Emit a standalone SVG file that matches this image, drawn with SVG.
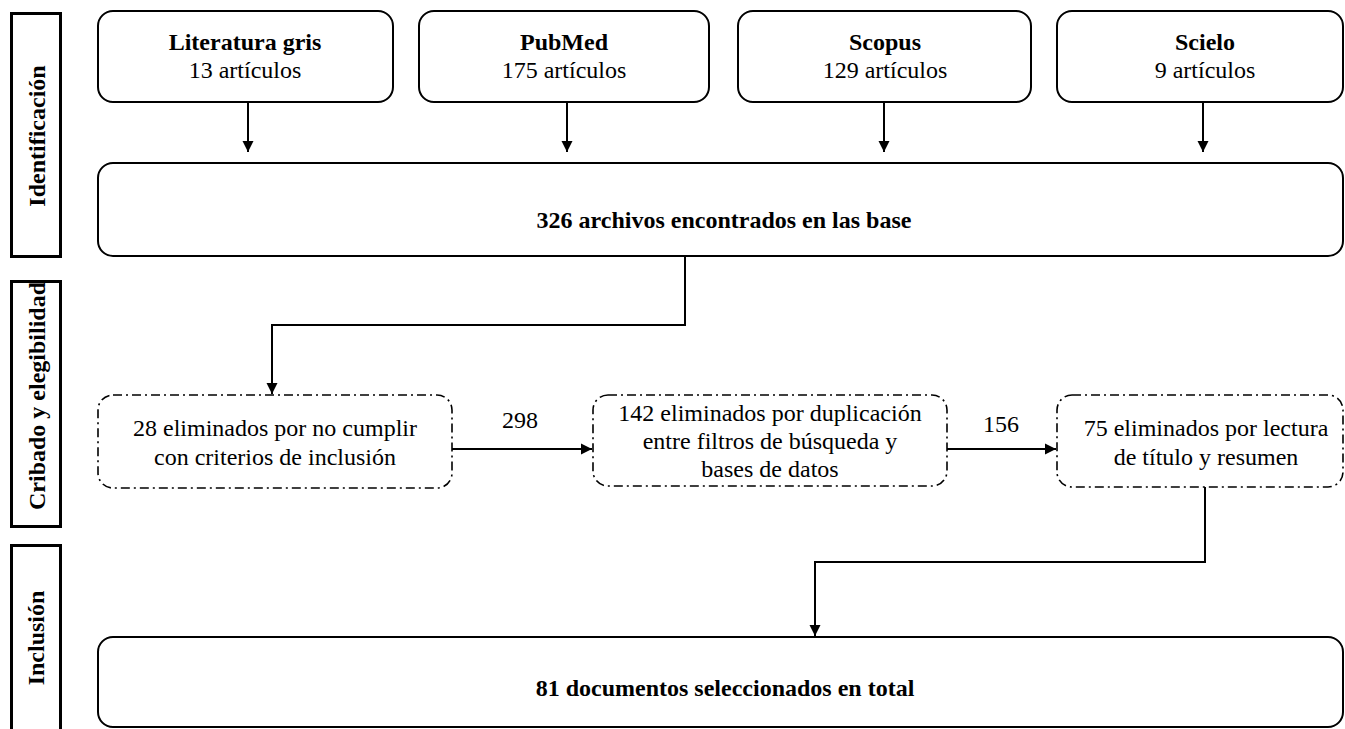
<svg xmlns="http://www.w3.org/2000/svg" width="1345" height="729" viewBox="0 0 1345 729">
<style>
.t{font-family:"Liberation Serif","Times New Roman",serif;font-size:24px;fill:#000;text-anchor:middle}
.b{font-weight:bold}
.box{fill:#fff;stroke:#000;stroke-width:2}
.dash{fill:#fff;stroke:#000;stroke-width:1.6;stroke-dasharray:9 4 2 4}
.side{fill:#fff;stroke:#000;stroke-width:3}
.c{fill:none;stroke:#000;stroke-width:2}
</style>
<defs>
<marker id="ah" markerWidth="12" markerHeight="12" refX="11" refY="6" orient="auto" markerUnits="userSpaceOnUse">
<path d="M0,0.5 L11,6 L0,11.5 z" fill="#000"/>
</marker>
</defs>
<g id="side-identificacion">
<rect class="side" x="11.5" y="13.5" width="49" height="243"/>
<text class="t b" transform="translate(45,136) rotate(-90)">Identificación</text>
</g>
<g id="side-cribado">
<rect class="side" x="11.5" y="281.5" width="49" height="245"/>
<text class="t b" transform="translate(45,396) rotate(-90)">Cribado y elegibilidad</text>
</g>
<g id="side-inclusion">
<rect class="side" x="11.5" y="545.5" width="49" height="200"/>
<text class="t b" transform="translate(44,638) rotate(-90)">Inclusión</text>
</g>
<g id="n-literatura">
<rect class="box" x="98" y="11" width="295" height="91" rx="15"/>
<text class="t b" x="245" y="50">Literatura gris</text>
<text class="t" x="245" y="78">13 artículos</text>
</g>
<g id="n-pubmed">
<rect class="box" x="419" y="11" width="290" height="91" rx="15"/>
<text class="t b" x="564" y="50">PubMed</text>
<text class="t" x="564" y="78">175 artículos</text>
</g>
<g id="n-scopus">
<rect class="box" x="738" y="11" width="293" height="91" rx="15"/>
<text class="t b" x="885" y="50">Scopus</text>
<text class="t" x="885" y="78">129 artículos</text>
</g>
<g id="n-scielo">
<rect class="box" x="1057" y="11" width="286" height="91" rx="15"/>
<text class="t b" x="1205" y="50">Scielo</text>
<text class="t" x="1205" y="78">9 artículos</text>
</g>
<g id="n-326">
<rect class="box" x="98" y="163" width="1245" height="93" rx="15"/>
<text class="t b" x="724" y="228">326 archivos encontrados en las base</text>
</g>
<g id="n-28">
<rect class="dash" x="98" y="395" width="354" height="93" rx="15"/>
<text class="t" x="275" y="436">28 eliminados por no cumplir</text>
<text class="t" x="275" y="465">con criterios de inclusión</text>
</g>
<g id="n-142">
<rect class="dash" x="593" y="395" width="354" height="91" rx="15"/>
<text class="t" x="770" y="421">142 eliminados por duplicación</text>
<text class="t" x="770" y="449">entre filtros de búsqueda y</text>
<text class="t" x="770" y="477">bases de datos</text>
</g>
<g id="n-75">
<rect class="dash" x="1057" y="395" width="286" height="92" rx="15"/>
<text class="t" x="1206" y="436">75 eliminados por lectura</text>
<text class="t" x="1206" y="465">de título y resumen</text>
</g>
<g id="n-81">
<rect class="box" x="98" y="637" width="1245" height="90" rx="15"/>
<text class="t b" x="725" y="696">81 documentos seleccionados en total</text>
</g>
<g id="connectors">
<line class="c" x1="248" y1="102" x2="248" y2="152" marker-end="url(#ah)"/>
<line class="c" x1="567" y1="102" x2="567" y2="152" marker-end="url(#ah)"/>
<line class="c" x1="884" y1="102" x2="884" y2="152" marker-end="url(#ah)"/>
<line class="c" x1="1203" y1="102" x2="1203" y2="152" marker-end="url(#ah)"/>
<polyline class="c" points="685,256 685,325 272,325 272,394" marker-end="url(#ah)"/>
<line class="c" x1="452" y1="449" x2="592" y2="449" marker-end="url(#ah)"/>
<text class="t" x="520" y="428">298</text>
<line class="c" x1="947" y1="449" x2="1056" y2="449" marker-end="url(#ah)"/>
<text class="t" x="1001" y="432">156</text>
<polyline class="c" points="1205,487 1205,562 815,562 815,636" marker-end="url(#ah)"/>
</g>
</svg>
